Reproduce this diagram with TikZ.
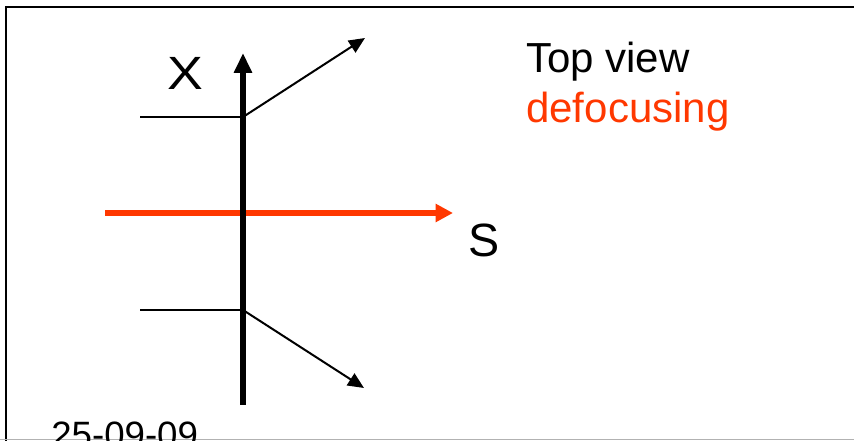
\documentclass[tikz,border=0pt]{standalone}
\usepackage{fontspec}
\setmainfont{Liberation Sans}
\usepackage{xcolor}
\usetikzlibrary{arrows.meta,positioning,calc}
\definecolor{defoc}{RGB}{255,56,0}

\begin{document}
\begin{tikzpicture}[
  x=0.75pt, y=-0.75pt,
  frame/.style={draw=black, line width=1.5pt},
  axis/.style={-{Triangle[length=15pt,width=13pt]}, line width=3.8pt},
  ray/.style={line width=1.5pt},
  rayout/.style={ray, -{Triangle[length=12pt,width=10.5pt]}},
  beam/.style={-{Triangle[length=13pt,width=13pt]}, line width=3.8pt, draw=defoc},
  biglbl/.style={font=\fontsize{35}{40}\selectfont, inner sep=0pt, anchor=base west},
  lbl/.style={font=\fontsize{31.5}{36}\selectfont, inner sep=0pt, anchor=base west}
]
\useasboundingbox (0,0) rectangle (854,441);
\fill[white] (0,0) rectangle (854,441);
\draw[frame] (6,441) -- (6,7) -- (854,7);
\draw[gray!60, line width=0.75pt] (0,440) -- (854,440);

\coordinate (xbot) at (243,405);
\coordinate (xtop) at (243,53);
\coordinate (hitup) at (243,117);
\coordinate (hitdn) at (243,310);
\coordinate (inup) at (140,117);
\coordinate (indn) at (140,310);
\coordinate (outup) at (365,38);
\coordinate (outdn) at (364,388);
\coordinate (sbeg) at (105,213);
\coordinate (send) at (453,213);

\draw[beam] (sbeg) -- (send);
\draw[axis] (xbot) -- (xtop);
\draw[ray] (inup) -- (hitup);
\draw[ray] (indn) -- (hitdn);
\draw[rayout] (hitup) -- (outup);
\draw[rayout] (hitdn) -- (outdn);

\node[biglbl, xscale=1.15] (xlab) at (167,90) {X};
\node[biglbl] (slab) at (468,257) {S};
\node[lbl] (title) at (526,73) {Top view};
\node[lbl, text=defoc] (defl) at (526,123) {defocusing};
\node[lbl, font=\fontsize{27.5}{32}\selectfont] (date) at (51,448) {25-09-09};
\end{tikzpicture}
\end{document}
